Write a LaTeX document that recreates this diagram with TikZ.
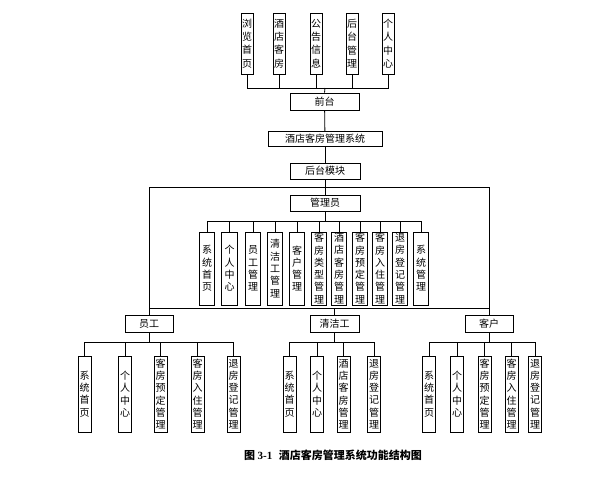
\documentclass[tikz,border=0pt]{standalone}
\usepackage{fontspec}
\newfontfamily\cjk{Noto Sans CJK SC}
\newfontfamily\capserif{Liberation Serif}
\begin{document}
\begin{tikzpicture}[x=1pt,y=-1pt,
  box/.style={draw=black,line width=0.8pt,fill=white,inner sep=0pt,align=center},
  hbox/.style={box,font=\cjk\fontsize{10}{12}\selectfont},
  vbox/.style={box,font=\cjk\fontsize{10}{12.3}\selectfont},
  conn/.style={draw=black,line width=0.8pt}]
\useasboundingbox (0,0) rectangle (607,498);

% top row
\foreach \n/\x/\t in {t1/247/{浏\\览\\首\\页},t2/279/{酒\\店\\客\\房},t3/316/{公\\告\\信\\息},t4/352/{后\\台\\管\\理},t5/388/{个\\人\\中\\心}}
  \node[vbox,font=\cjk\fontsize{10}{13.3}\selectfont,minimum width=12,minimum height=61] (\n) at (\x,43.5) {\t};

\node[hbox,minimum width=69,minimum height=17] (qt) at (324.5,101.5) {前台};
\node[hbox,minimum width=114,minimum height=15] (sys) at (325,139) {酒店客房管理系统};
\node[hbox,minimum width=70,minimum height=16] (ht) at (325,171) {后台模块};
\node[hbox,minimum width=70,minimum height=16] (gl) at (325,203) {管理员};

% admin children
\foreach \n/\x/\t in {a1/207/{系\\统\\首\\页},a2/229.5/{个\\人\\中\\心},a3/253/{员\\工\\管\\理},a4/275/{清\\洁\\工\\管\\理},a5/297/{客\\户\\管\\理},a6/319/{客\\房\\类\\型\\管\\理},a7/339/{酒\\店\\客\\房\\管\\理},a8/360/{客\\房\\预\\定\\管\\理},a9/380/{客\\房\\入\\住\\管\\理},a10/400/{退\\房\\登\\记\\管\\理},a11/421/{系\\统\\管\\理}}
  \node[vbox,minimum width=15.5,minimum height=73] (\n) at (\x,268.5) {\t};

% second level
\node[hbox,minimum width=48,minimum height=17] (yg) at (149,323.5) {员工};
\node[hbox,minimum width=49,minimum height=17] (qj) at (334.5,323.5) {清洁工};
\node[hbox,minimum width=48,minimum height=17] (kh) at (489,323.5) {客户};

\foreach \n/\x/\t in {e1/84.5/{系\\统\\首\\页},e2/125/{个\\人\\中\\心},e3/160.5/{客\\房\\预\\定\\管\\理},e4/197.5/{客\\房\\入\\住\\管\\理},e5/233.5/{退\\房\\登\\记\\管\\理},
  c1/289.5/{系\\统\\首\\页},c2/317/{个\\人\\中\\心},c3/343.5/{酒\\店\\客\\房\\管\\理},c4/374/{退\\房\\登\\记\\管\\理},
  k1/429/{系\\统\\首\\页},k2/457/{个\\人\\中\\心},k3/484.5/{客\\房\\预\\定\\管\\理},k4/511.5/{客\\房\\入\\住\\管\\理},k5/535/{退\\房\\登\\记\\管\\理}}
  \node[vbox,minimum width=13,minimum height=76] (\n) at (\x,394) {\t};

% bus coordinates
\coordinate (busT) at (325,88);
\coordinate (busA) at (325,221);
\coordinate (rTL) at (149,187);
\coordinate (rTR) at (489,187);
\coordinate (rBL) at (149,308);
\coordinate (rBR) at (489,308);
\coordinate (busE) at (149,342);
\coordinate (busC) at (334.5,342);
\coordinate (busK) at (489,342);

% connectors
\foreach \n in {t1,t2,t3,t4,t5} \draw[conn] (\n.south) |- (busT);
\draw[conn] (busT) -- (qt.north);
\draw[conn] (qt) -- (sys);
\draw[conn] (sys) -- (ht);
\draw[conn] (ht) -- (gl);
\draw[conn] (gl.south) -- (busA);
\foreach \n in {a1,a2,a3,a4,a5,a6,a7,a8,a9,a10,a11} \draw[conn] (\n.north) |- (busA);
\draw[conn] (yg.north) -- (rTL) -- (rTR) -- (kh.north);
\draw[conn] (rBL) -- (rBR);
\draw[conn] (qj.north) |- (rBR);
\draw[conn] (yg.south) -- (busE);
\foreach \n in {e1,e2,e3,e4,e5} \draw[conn] (\n.north) |- (busE);
\draw[conn] (qj.south) -- (busC);
\foreach \n in {c1,c2,c3,c4} \draw[conn] (\n.north) |- (busC);
\draw[conn] (kh.south) -- (busK);
\foreach \n in {k1,k2,k3,k4,k5} \draw[conn] (\n.north) |- (busK);

% caption
\node[inner sep=0pt,font=\cjk\bfseries\fontsize{11}{13}\selectfont] (cap) at (333,455) {图 {\capserif\bfseries 3-1}\hspace{0.6em}酒店客房管理系统功能结构图};
\end{tikzpicture}
\end{document}
